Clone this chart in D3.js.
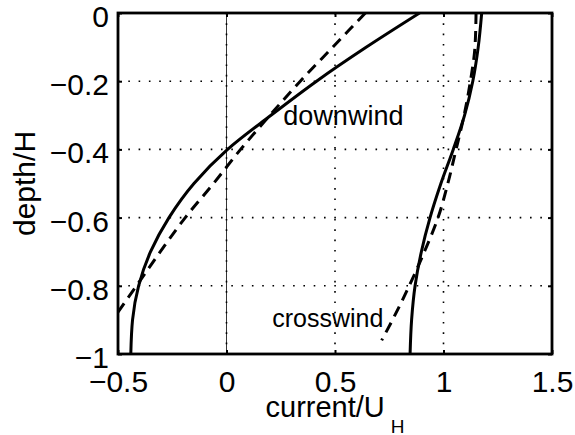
<!DOCTYPE html>
<html>
<head>
<meta charset="utf-8">
<script src="https://cdn.jsdelivr.net/npm/d3@7"></script>
<style>
  html, body { margin: 0; padding: 0; background: #fff; }
  svg { display: block; font-family: "Liberation Sans", Arial, Helvetica, sans-serif; }
</style>
</head>
<body>
<svg id="chart" width="575" height="435"></svg>
<script>
// ---- data ----
const depthLevels = [0, -0.1, -0.2, -0.3, -0.4, -0.5, -0.6, -0.7, -0.8, -0.9, -1.0];
const downwindSolid = [0.89, 0.645, 0.415, 0.205, 0.005, -0.15, -0.265, -0.35, -0.405, -0.433, -0.441];
const downwindDashed = [0.64, 0.49, 0.34, 0.20, 0.065, -0.06, -0.19, -0.305, -0.415, -0.525, -0.63];
const crosswindSolid = [1.176, 1.16, 1.135, 1.097, 1.045, 0.988, 0.938, 0.898, 0.869, 0.853, 0.846];
const crosswindDashedDepth = [0, -0.1, -0.2, -0.3, -0.4, -0.5, -0.6, -0.7, -0.8, -0.9, -0.96];
const crosswindDashed = [1.15, 1.145, 1.124, 1.095, 1.058, 1.02, 0.975, 0.912, 0.842, 0.765, 0.715];
const xTicks = [-0.5, 0, 0.5, 1, 1.5];
const yTicks = [-1, -0.8, -0.6, -0.4, -0.2, 0];
const xLabel = "current/U";
const xLabelSub = "H";
const yLabel = "depth/H";
const annotations = [
  { text: "downwind", x: 0.262, y: -0.328, size: 27 },
  { text: "crosswind", x: 0.211, y: -0.921, size: 25 }
];

// ---- layout ----
const W = 575, H = 435;
const m = { left: 118, right: 23, top: 13, bottom: 81 };
const svg = d3.select("#chart");
const x = d3.scaleLinear().domain([-0.5, 1.5]).range([m.left, W - m.right]);
const y = d3.scaleLinear().domain([-1, 0]).range([H - m.bottom, m.top]);
const FONT = '"Liberation Sans", Arial, Helvetica, sans-serif';

const fmt = v => (v < 0 ? "\u2212" : "") + String(Math.abs(v));

svg.append("defs").append("clipPath").attr("id", "clip")
  .append("rect").attr("x", x(-0.5)).attr("y", y(0)).attr("width", x(1.5) - x(-0.5)).attr("height", y(-1) - y(0));

// grid
const grid = svg.append("g");
grid.selectAll("line.gx").data(xTicks.slice(1, -1)).join("line")
  .attr("x1", d => x(d)).attr("x2", d => x(d)).attr("y1", y(0)).attr("y2", y(-1))
  .attr("stroke", "#000").attr("stroke-width", 1.6).attr("stroke-dasharray", "1.6,8.7");
grid.selectAll("line.gy").data(yTicks.slice(1, -1)).join("line")
  .attr("y1", d => y(d)).attr("y2", d => y(d)).attr("x1", x(-0.5)).attr("x2", x(1.5))
  .attr("stroke", "#000").attr("stroke-width", 1.6).attr("stroke-dasharray", "1.6,8.7");
// thin zero line
grid.append("line").attr("x1", x(0)).attr("x2", x(0)).attr("y1", y(0)).attr("y2", y(-1))
  .attr("stroke", "#000").attr("stroke-width", 0.8);

// curves
const line = d3.line().x(d => x(d[0])).y(d => y(d[1])).curve(d3.curveMonotoneY);
const curves = [
  { v: downwindSolid, d: depthLevels, dash: null },
  { v: downwindDashed, d: depthLevels, dash: "11,7" },
  { v: crosswindSolid, d: depthLevels, dash: null },
  { v: crosswindDashed, d: crosswindDashedDepth, dash: "11,7" }
];
const cg = svg.append("g").attr("clip-path", "url(#clip)");
curves.forEach(c => {
  cg.append("path").datum(c.v.map((v, i) => [v, c.d[i]]))
    .attr("d", line).attr("fill", "none").attr("stroke", "#000")
    .attr("stroke-width", 3).attr("stroke-dasharray", c.dash);
});

// axes
const fs = 30;
const ax = svg.append("g").attr("transform", `translate(0,${y(-1)})`)
  .call(d3.axisBottom(x).tickValues(xTicks).tickFormat(fmt).tickSize(-4).tickPadding(16.5));
const ay = svg.append("g").attr("transform", `translate(${x(-0.5)},0)`)
  .call(d3.axisLeft(y).tickValues(yTicks).tickFormat(fmt).tickSize(-4).tickPadding(9));
const at = svg.append("g").attr("transform", `translate(0,${y(0)})`)
  .call(d3.axisTop(x).tickValues(xTicks).tickFormat("").tickSize(-4));
const ar = svg.append("g").attr("transform", `translate(${x(1.5)},0)`)
  .call(d3.axisRight(y).tickValues(yTicks).tickFormat("").tickSize(-4));
[ax, ay, at, ar].forEach(g => {
  g.select(".domain").remove();
  g.selectAll(".tick line").attr("stroke", "#000").attr("stroke-width", 2);
  g.selectAll("text").attr("fill", "#000").style("font-size", fs + "px").style("font-family", FONT);
});
ay.selectAll("text").attr("dy", "0.45em");

// box
svg.append("rect").attr("x", x(-0.5)).attr("y", y(0))
  .attr("width", x(1.5) - x(-0.5)).attr("height", y(-1) - y(0))
  .attr("fill", "none").attr("stroke", "#000").attr("stroke-width", 2.8);

// annotations
svg.selectAll("text.ann").data(annotations).join("text")
  .attr("class", "ann").attr("x", d => x(d.x)).attr("y", d => y(d.y))
  .style("font-size", d => d.size + "px").attr("fill", "#000").text(d => d.text);

// axis labels
const xl = svg.append("text").attr("x", (x(-0.5) + x(1.5)) / 2).attr("y", 416.5)
  .attr("text-anchor", "middle").style("font-size", "29px").attr("fill", "#000");
xl.append("tspan").text(xLabel);
xl.append("tspan").attr("dx", 6).attr("dy", 16).style("font-size", "19px").text(xLabelSub);

svg.append("text").attr("transform", `translate(35,${(y(0) + y(-1)) / 2}) rotate(-90)`)
  .attr("text-anchor", "middle").style("font-size", "30px").attr("fill", "#000").text(yLabel);
</script>
</body>
</html>
